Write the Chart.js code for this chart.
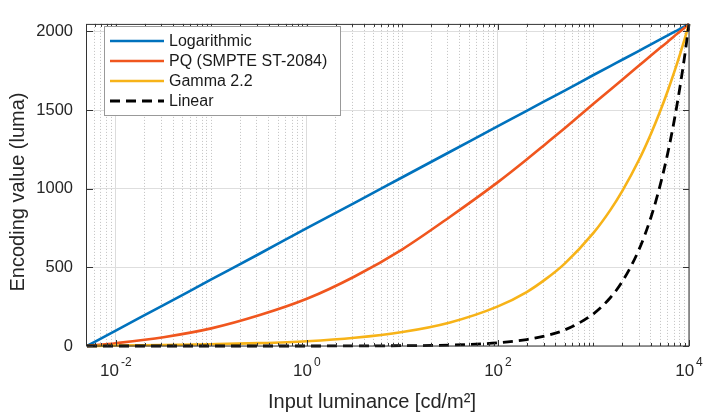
<!DOCTYPE html>
<html>
<head>
<meta charset="utf-8">
<script src="https://cdn.jsdelivr.net/npm/chart.js@4.4.0/dist/chart.umd.min.js"></script>
<style>
  html, body { margin: 0; padding: 0; background: #fff; }
</style>
</head>
<body>
<canvas id="myChart" width="704" height="415"></canvas>
<script>
// input luminance in cd/m2 (log axis)
const luminance = [0.005, 0.01, 0.0316, 0.1, 0.316, 1, 3.16, 10, 31.6, 100, 200, 316, 500,
  1000, 1500, 2000, 3000, 4000, 5000, 6000, 7000, 8000, 9000, 10000];

// encoding values (luma)
const logValues = [0, 98, 260, 423, 585, 750, 910, 1073, 1235, 1398, 1495, 1560, 1624,
  1723, 1780, 1820, 1877, 1918, 1949, 1975, 1997, 2015, 2032, 2047];
const pqValues = [0, 18, 56, 112, 195, 300, 442, 615, 822, 1042, 1186, 1285, 1385,
  1540, 1630, 1693, 1783, 1847, 1896, 1935, 1970, 1998, 2024, 2047];
const gammaValues = [0, 3, 6, 11, 18, 30, 52, 89, 150, 252, 343, 425, 524,
  719, 864, 985, 1184, 1350, 1494, 1623, 1741, 1850, 1951, 2047];
const linearValues = [0, 0, 0, 0, 0, 0, 1, 2, 6, 20, 41, 65, 102,
  205, 307, 409, 614, 819, 1024, 1228, 1433, 1638, 1842, 2047];

const seriesLabels = ["Logarithmic", "PQ (SMPTE ST-2084)", "Gamma 2.2", "Linear"];
const seriesColors = ["#0072BD", "#F0561E", "#F7B318", "#000000"];

const yTickValues = [0, 500, 1000, 1500, 2000];
const xTickExponents = [-2, 0, 2, 4];

const FONT = 'Helvetica, "Liberation Sans", Arial, sans-serif';
const X_MIN = 0.005, X_MAX = 10000;

const toPoints = (vals) => luminance.map((x, i) => ({ x: x, y: vals[i] }));

const isLabelDecade = (v) => {
  const e = Math.log10(v);
  return Math.abs(e - Math.round(e)) < 1e-9 && xTickExponents.includes(Math.round(e));
};

// 1..9 x 10^k grid positions
const buildLogTicks = () => {
  const ticks = [];
  for (let k = -3; k <= 4; k++) {
    for (let n = 1; n <= 9; n++) {
      const v = parseFloat((n * Math.pow(10, k)).toPrecision(6));
      if (v > X_MIN && v <= X_MAX) ticks.push({ value: v });
    }
  }
  return ticks;
};

const makeDataset = (i, vals) => ({
  label: seriesLabels[i],
  data: toPoints(vals),
  borderColor: seriesColors[i],
  borderWidth: i === 3 ? 2.8 : 2.6,
  borderDash: i === 3 ? [10, 6] : [],
  pointRadius: 0,
  cubicInterpolationMode: "monotone",
  clip: 5,
  order: 3 - i,
});

const matlabDecor = {
  id: "matlabDecor",
  beforeDraw(chart) {
    const ctx = chart.ctx;
    ctx.save();
    ctx.fillStyle = "#fff";
    ctx.fillRect(0, 0, chart.width, chart.height);
    ctx.restore();
  },
  afterDraw(chart) {
    const ctx = chart.ctx;
    const a = chart.chartArea;
    const xs = chart.scales.x;
    const ys = chart.scales.y;
    ctx.save();

    // box
    ctx.strokeStyle = "#333";
    ctx.lineWidth = 1;
    ctx.strokeRect(a.left - 0.5, a.top + 0.5, a.right - a.left + 0.5, a.bottom - a.top - 0.5);

    // inward tick marks
    ctx.beginPath();
    xs.ticks.forEach((t) => {
      const px = Math.round(xs.getPixelForValue(t.value)) + 0.5;
      const len = isLabelDecade(t.value) ? 6 : 3;
      ctx.moveTo(px, a.bottom);
      ctx.lineTo(px, a.bottom - len);
      ctx.moveTo(px, a.top);
      ctx.lineTo(px, a.top + len);
    });
    yTickValues.forEach((v) => {
      const py = Math.round(ys.getPixelForValue(v)) + 0.5;
      ctx.moveTo(a.left, py);
      ctx.lineTo(a.left + 6, py);
      ctx.moveTo(a.right, py);
      ctx.lineTo(a.right - 6, py);
    });
    ctx.stroke();

    // x tick labels 10^e
    ctx.fillStyle = "#262626";
    ctx.textBaseline = "alphabetic";
    ctx.textAlign = "left";
    xTickExponents.forEach((e) => {
      const px = xs.getPixelForValue(Math.pow(10, e));
      ctx.font = "17px " + FONT;
      const wBase = ctx.measureText("10").width;
      ctx.font = "12px " + FONT;
      const expText = String(e);
      const wExp = ctx.measureText(expText).width;
      const start = px - (wBase + 2 + wExp) / 2;
      ctx.font = "17px " + FONT;
      ctx.fillText("10", start, 376);
      ctx.font = "12px " + FONT;
      ctx.fillText(expText, start + wBase + 2, 366);
    });

    // axis titles
    ctx.font = "20px " + FONT;
    ctx.textAlign = "center";
    ctx.fillText("Input luminance [cd/m\u00B2]", 372, 408);
    ctx.save();
    ctx.translate(24, 192);
    ctx.rotate(-Math.PI / 2);
    ctx.fillText("Encoding value (luma)", 0, 0);
    ctx.restore();

    // legend inside the axes
    const lx = 104.5, ly = 26.5, lw = 236, lh = 89;
    ctx.fillStyle = "#fff";
    ctx.fillRect(lx, ly, lw, lh);
    ctx.strokeStyle = "#999";
    ctx.lineWidth = 1;
    ctx.strokeRect(lx, ly, lw, lh);
    ctx.font = "16px " + FONT;
    ctx.textAlign = "left";
    ctx.textBaseline = "middle";
    chart.data.datasets.forEach((ds, i) => {
      const yy = 41 + i * 20;
      ctx.beginPath();
      ctx.strokeStyle = ds.borderColor;
      ctx.lineWidth = ds.borderWidth;
      ctx.setLineDash(ds.borderDash);
      ctx.moveTo(110, yy);
      ctx.lineTo(164, yy);
      ctx.stroke();
      ctx.setLineDash([]);
      ctx.fillStyle = "#1a1a1a";
      ctx.fillText(ds.label, 169, yy + 1);
    });
    ctx.restore();
  },
};

const config = {
  type: "line",
  data: {
    datasets: [
      makeDataset(0, logValues),
      makeDataset(1, pqValues),
      makeDataset(2, gammaValues),
      makeDataset(3, linearValues),
    ],
  },
  options: {
    responsive: false,
    animation: false,
    devicePixelRatio: 1,
    layout: { padding: { left: 0, right: 15, top: 8, bottom: 0 } },
    plugins: {
      legend: { display: false },
      tooltip: { enabled: false },
    },
    scales: {
      x: {
        type: "logarithmic",
        min: X_MIN,
        max: X_MAX,
        afterBuildTicks: (scale) => {
          scale.ticks = buildLogTicks();
        },
        afterFit: (scale) => {
          scale.height = 69;
        },
        ticks: { display: false, autoSkip: false },
        grid: {
          drawTicks: false,
          lineWidth: 1,
          color: (ctx) => (ctx.tick && isLabelDecade(ctx.tick.value) ? "#dcdcdc" : "#c2c2c2"),
        },
        border: {
          display: false,
          dash: (ctx) => (ctx.tick && isLabelDecade(ctx.tick.value) ? [] : [1, 2]),
        },
      },
      y: {
        type: "linear",
        min: 0,
        max: 2048,
        afterBuildTicks: (scale) => {
          scale.ticks = yTickValues.map((v) => ({ value: v }));
        },
        afterFit: (scale) => {
          scale.width = 87;
        },
        ticks: {
          padding: 14,
          color: "#262626",
          font: { family: FONT, size: 16.5 },
          callback: (v) => String(v),
        },
        grid: { drawTicks: false, color: "#dedede", lineWidth: 1 },
        border: { display: false },
      },
    },
  },
  plugins: [matlabDecor],
};

window.addEventListener("DOMContentLoaded", () => {
  const ctx = document.getElementById("myChart");
  new Chart(ctx, config);
});
</script>
</body>
</html>
